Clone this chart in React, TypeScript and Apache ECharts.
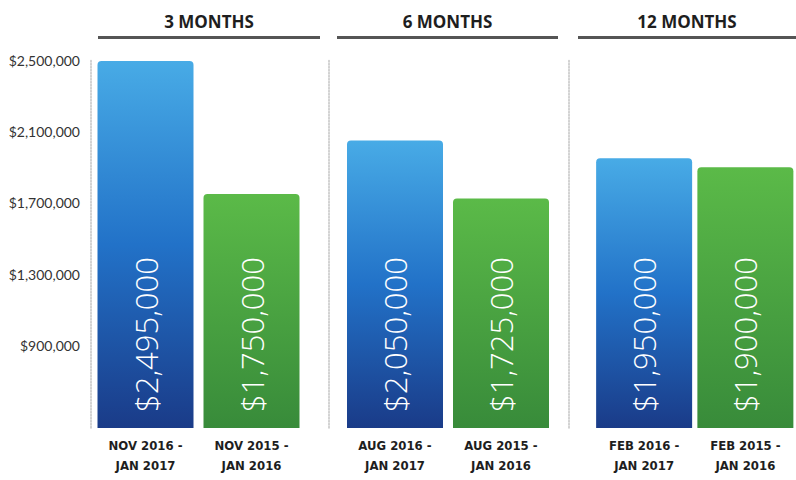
import React, { useEffect, useRef } from "react";
import * as echarts from "echarts";

const periods = ["3 MONTHS", "6 MONTHS", "12 MONTHS"];
const currentRanges = ["NOV 2016 -\nJAN 2017", "AUG 2016 -\nJAN 2017", "FEB 2016 -\nJAN 2017"];
const priorRanges = ["NOV 2015 -\nJAN 2016", "AUG 2015 -\nJAN 2016", "FEB 2015 -\nJAN 2016"];
const currentValues = [2495000, 2050000, 1950000];
const priorValues = [1750000, 1725000, 1900000];
const yTickValues = [900000, 1300000, 1700000, 2100000, 2500000];

const fmt = (v: number) => "$" + Number(v).toLocaleString("en-US");

const blueGrad = () =>
  new echarts.graphic.LinearGradient(0, 0, 0, 1, [
    { offset: 0, color: "#48abe6" },
    { offset: 0.5, color: "#2272c8" },
    { offset: 1, color: "#1a3b88" },
  ]);
const greenGrad = () =>
  new echarts.graphic.LinearGradient(0, 0, 0, 1, [
    { offset: 0, color: "#5bba48" },
    { offset: 1, color: "#388b3a" },
  ]);

export default function App() {
  const ref = useRef<HTMLDivElement>(null);
  useEffect(() => {
    if (!ref.current) return;
    const chart = echarts.init(ref.current, null, { renderer: "svg" });
    const gridLefts = [92.5, 342, 593.5];
    const axisOffsets = [1.5, 13, 24.5];
    const grids = gridLefts.map((l) => ({ left: l, width: 212, top: 60, bottom: 52 }));
    const xAxes = periods.map((_, i) => ({
      type: "category",
      gridIndex: i,
      data: [currentRanges[i], priorRanges[i]],
      axisLine: { show: false },
      axisTick: { show: false },
      axisLabel: {
        margin: 7,
        color: "#1e1e1e",
        fontFamily: "DejaVu Sans Condensed",
        fontWeight: "bold",
        fontSize: 13,
        lineHeight: 20,
      },
    }));
    const yAxes = periods.map((_, i) => ({
      type: "value",
      gridIndex: i,
      min: 440000,
      max: 2500000,
      offset: axisOffsets[i],
      axisLine: { show: true, lineStyle: { color: "#c4c4c4", type: "dotted", width: 1.5 } },
      axisTick: { show: false },
      splitLine: { show: false },
      axisLabel:
        i === 0
          ? {
              show: true,
              customValues: yTickValues,
              formatter: (v: number) => fmt(v),
              color: "#333",
              fontFamily: "Lato",
              fontSize: 14,
              margin: 11,
            }
          : { show: false },
    }));
    const series = periods.map((_, i) => ({
      type: "bar",
      xAxisIndex: i,
      yAxisIndex: i,
      barWidth: 96,
      data: [
        { value: currentValues[i], itemStyle: { color: blueGrad(), borderRadius: [4, 4, 0, 0] } },
        { value: priorValues[i], itemStyle: { color: greenGrad(), borderRadius: [4, 4, 0, 0] } },
      ],
      label: {
        show: true,
        position: "insideBottom",
        rotate: 90,
        align: "left",
        verticalAlign: "middle",
        distance: 16,
        color: "#ffffff",
        fontFamily: "Open Sans",
        fontWeight: 300,
        fontSize: 31,
        formatter: (p: any) => fmt(p.value),
      },
    }));
    const headerCenters = [209, 447.5, 687];
    const underline = [
      [98, 320],
      [337, 558],
      [578, 796],
    ];
    const graphic: any[] = [];
    periods.forEach((p, i) => {
      graphic.push({
        type: "text",
        x: headerCenters[i],
        y: 21,
        style: {
          text: p,
          fill: "#1e1e1e",
          font: "bold 17px 'Open Sans'",
          align: "center",
          verticalAlign: "middle",
        },
      });
      graphic.push({
        type: "line",
        shape: { x1: underline[i][0], y1: 37.5, x2: underline[i][1], y2: 37.5 },
        style: { stroke: "#555555", lineWidth: 3 },
      });
    });
    chart.setOption({
      animation: false,
      backgroundColor: "#ffffff",
      grid: grids,
      xAxis: xAxes,
      yAxis: yAxes,
      series,
      graphic,
    } as any);
    return () => chart.dispose();
  }, []);
  return <div ref={ref} style={{ width: 796, height: 480, position: "absolute", left: 0, top: 0 }} />;
}
